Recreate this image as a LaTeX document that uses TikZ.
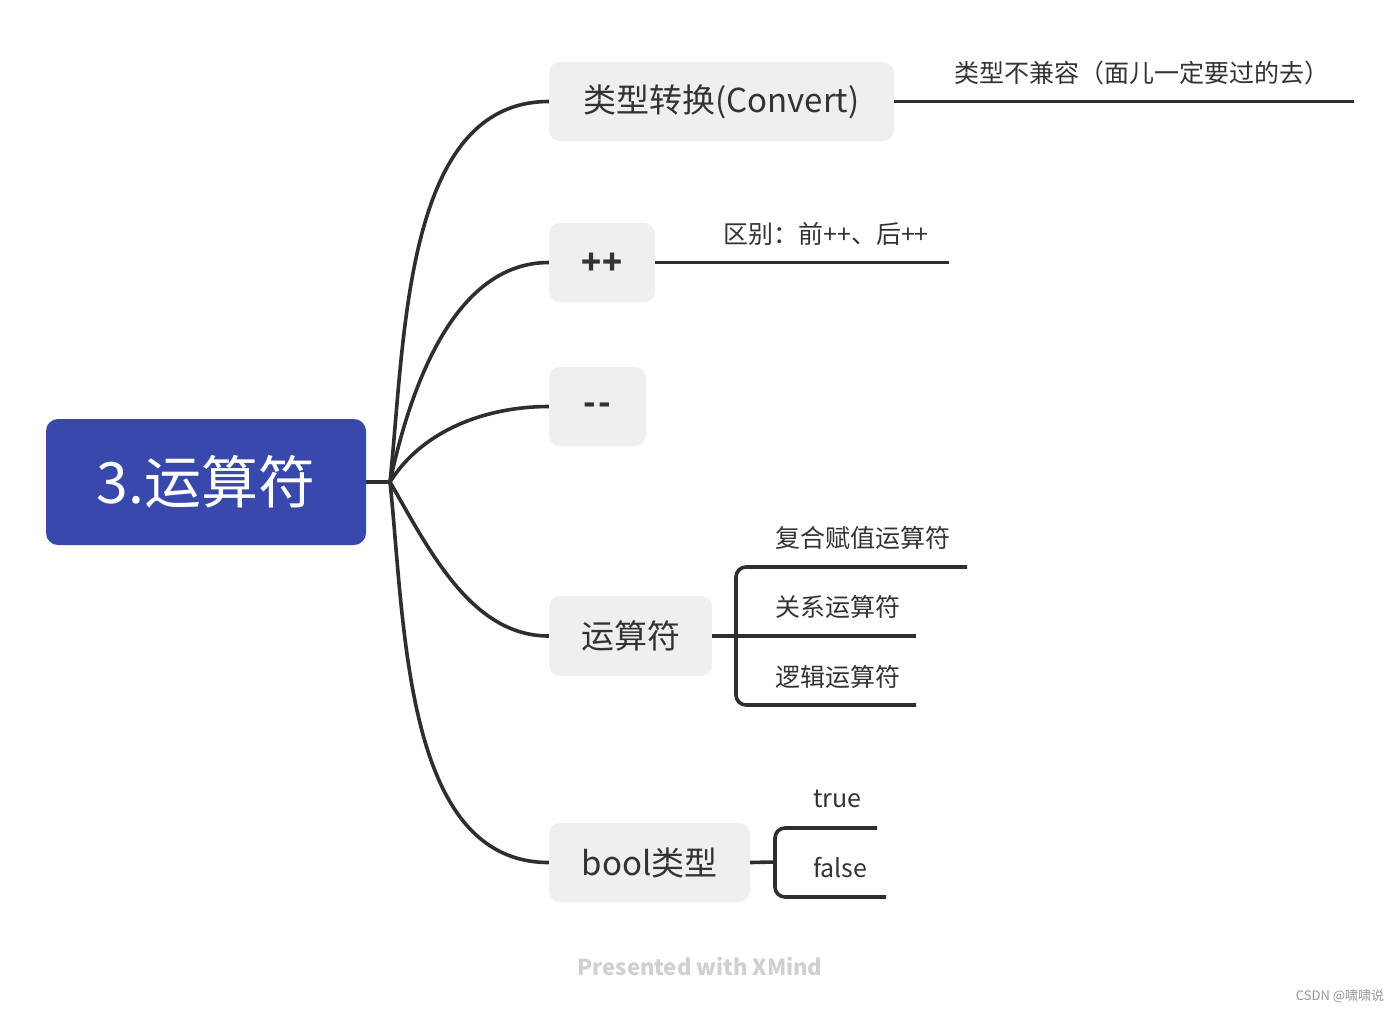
\documentclass[tikz,border=0pt]{standalone}
\usepackage{fontspec}
\setmainfont{Noto Sans CJK SC}
\begin{document}
\begin{tikzpicture}[x=1pt,y=-1pt,
  conn/.style={draw=linec,line width=3.6pt},
  branch/.style={fill=boxgray,rounded corners=11pt,inner sep=0pt,text=textc,font=\fontsize{33}{40}\selectfont},
  sublabel/.style={inner sep=0pt,text=textc,font=\fontsize{25}{30}\selectfont}]
\definecolor{linec}{HTML}{2E2E2E}
\definecolor{boxgray}{HTML}{EFEFEF}
\definecolor{textc}{HTML}{333333}
\definecolor{rootc}{HTML}{3949AB}
\useasboundingbox[fill=white] (0,0) rectangle (1400,1012);
% root
\node[fill=rootc,rounded corners=12pt,minimum width=320pt,minimum height=126pt,inner sep=0pt,text=white,font=\fontsize{57}{66}\selectfont] (root) at (206,482) {3.运算符};
% branches
\node[branch,minimum width=345pt,minimum height=79pt] (b1) at (721.5,101.5) {类型转换(Convert)};
\node[branch,minimum width=106pt,minimum height=79pt] (b2) at (602,262.5) {\raisebox{-12pt}[0pt][0pt]{\bfseries ++}};
\node[branch,minimum width=97pt,minimum height=79pt] (b3) at (597.5,406.5) {\raisebox{-8pt}[0pt][0pt]{\bfseries -\kern2pt-}};
\node[branch,minimum width=163pt,minimum height=80pt] (b4) at (630.5,636) {运算符};
\node[branch,minimum width=201pt,minimum height=79pt] (b5) at (649.5,862.5) {bool类型};
\coordinate (j) at (390,482);
\draw[conn] (root.east) -- (j);
\draw[conn] (j) to[out=84,in=180,looseness=0.9] (b1.west);
\draw[conn] (j) to[out=78,in=180,looseness=0.9] (b2.west);
\draw[conn] (j) to[out=58,in=180,looseness=0.9] (b3.west);
\draw[conn] (j) to[out=-60,in=180,looseness=0.9] (b4.west);
\draw[conn] (j) to[out=-84,in=180,looseness=0.9] (b5.west);
% sub of b1
\coordinate (e1) at (1354,101.5);
\draw[conn] (b1.east) -- (e1);
\node[sublabel] (t1) at (1142,73) {类型不兼容（面儿一定要过的去）};
% sub of b2
\coordinate (e2) at (949,262.5);
\draw[conn] (b2.east) -- (e2);
\node[sublabel] (t2) at (826,234) {区别：前++、后++};
% sub of b4
\coordinate (k4) at (736,636);
\coordinate (e4a) at (967,567);
\coordinate (e4b) at (916,636);
\coordinate (e4c) at (916,705);
\draw[conn] (b4.east) -- (e4b);
\draw[conn,rounded corners=10pt] (e4a) -- (736,567) -- (736,705) -- (e4c);
\node[sublabel,anchor=west] (t4a) at (775,538) {复合赋值运算符};
\node[sublabel,anchor=west] (t4b) at (775,607) {关系运算符};
\node[sublabel,anchor=west] (t4c) at (775,677) {逻辑运算符};
% sub of b5
\coordinate (k5) at (775,862);
\coordinate (e5a) at (877,828);
\coordinate (e5b) at (886,897);
\draw[conn] (b5.east) -- (k5);
\draw[conn,rounded corners=10pt] (e5a) -- (775,828) -- (775,897) -- (e5b);
\node[sublabel,anchor=west] (t5a) at (813,799) {true};
\node[sublabel,anchor=west] (t5b) at (813,868) {false};
% watermarks
\node[inner sep=0pt,text={rgb,255:red,208;green,208;blue,208},font=\fontsize{22}{26}\selectfont\bfseries] (wm) at (700,966) {Presented with XMind};
\node[inner sep=0pt,text={rgb,255:red,150;green,150;blue,150},font=\fontsize{13}{16}\selectfont] (csdn) at (1340,996) {CSDN @啸啸说};
\end{tikzpicture}
\end{document}
